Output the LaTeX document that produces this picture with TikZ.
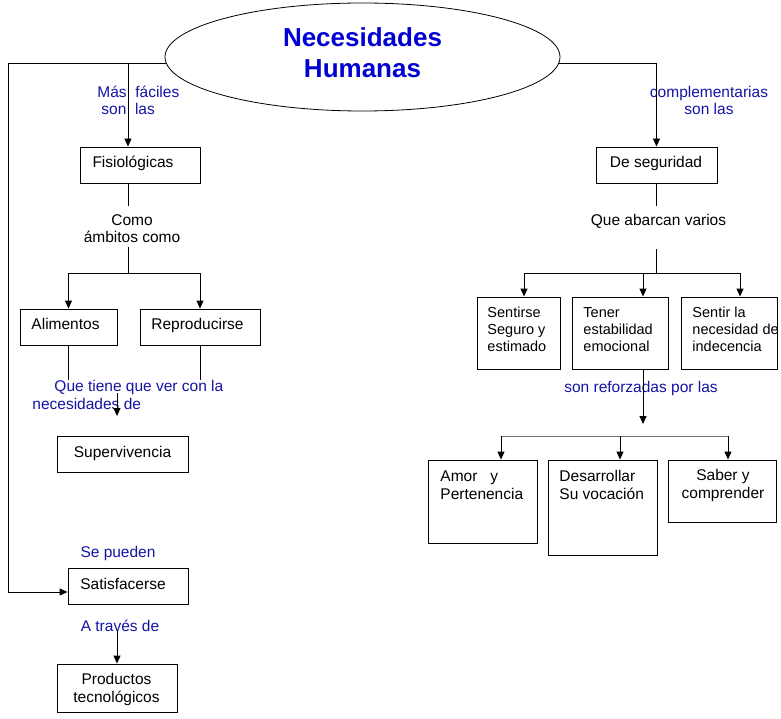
\documentclass[tikz,border=0pt]{standalone}
\usepackage{fontspec}
\setmainfont{Liberation Sans}
\usepackage{tikz}
\usetikzlibrary{arrows.meta,shapes.geometric}
\definecolor{titazul}{RGB}{0,0,210}
\definecolor{etiq}{RGB}{20,20,165}

\begin{document}
\begin{tikzpicture}[x=1pt, y=-1pt, line width=0.9pt,
  caja/.style={draw, inner sep=0pt},
  txt/.style={inner sep=0pt, anchor=base, align=center, font=\fontsize{15.5}{17.5}\selectfont},
  txtizq/.style={txt, anchor=base west, align=left},
  chico/.style={txtizq, font=\fontsize{14.5}{17}\selectfont},
  etiqueta/.style={txt, text=etiq},
  flecha/.style={-{Triangle[length=8pt,width=7pt]}}]
  \useasboundingbox (0,0) rectangle (781,719);
  % titulo (base = ultima linea)
  \node[draw, ellipse, line width=0.8pt, minimum width=395, minimum height=108] (titulo) at (362.5,57) {};
  \node[font=\fontsize{26}{31}\selectfont\bfseries, text=titazul, align=center, anchor=base] (tit) at (362.5,78) {Necesidades\\Humanas};
  % cajas
  \node[caja, minimum width=120, minimum height=36] (fisio) at (140,165) {};
  \node[caja, minimum width=121, minimum height=36] (segur) at (656.5,165) {};
  \node[caja, minimum width=97, minimum height=36] (alim) at (68.5,327) {};
  \node[caja, minimum width=120, minimum height=36] (repro) at (200,327) {};
  \node[caja, minimum width=131, minimum height=36] (superv) at (122.5,454) {};
  \node[caja, minimum width=120, minimum height=36] (satis) at (128,586) {};
  \node[caja, minimum width=120, minimum height=48] (prod) at (117,688) {};
  \node[caja, minimum width=83, minimum height=72] (sentirse) at (518.5,333) {};
  \node[caja, minimum width=96, minimum height=72] (tener) at (620,333) {};
  \node[caja, minimum width=96, minimum height=72] (sentir) at (729,333) {};
  \node[caja, minimum width=109, minimum height=83] (amor) at (482.5,501.5) {};
  \node[caja, minimum width=109, minimum height=95] (desarr) at (602.5,507.5) {};
  \node[caja, minimum width=108, minimum height=62] (saber) at (722,491) {};
  % textos de las cajas
  \node[txt] (fisio-t) at (133,168) {Fisiológicas};
  \node[txt] (segur-t) at (656,168) {De seguridad};
  \node[txt] (alim-t) at (65.5,329) {Alimentos};
  \node[txt] (repro-t) at (197.5,329) {Reproducirse};
  \node[txt] (superv-t) at (122.5,457) {Supervivencia};
  \node[txt] (satis-t) at (123,589) {Satisfacerse};
  \node[txt] (prod-t) at (116.5,702) {Productos\\tecnológicos};
  \node[chico] (sentirse-t) at (487,351) {Sentirse\\Seguro y\\estimado};
  \node[chico] (tener-t) at (583,351) {Tener\\estabilidad\\emocional};
  \node[chico] (sentir-t) at (692,351) {Sentir la\\necesidad de\\indecencia};
  \node[txtizq] (amor-t) at (440,499) {Amor~~~y\\Pertenencia};
  \node[txtizq] (desarr-t) at (559,499) {Desarrollar\\Su vocación};
  \node[txt] (saber-t) at (723,498) {Saber y\\comprender};
  % enlaces
  \node[etiqueta, anchor=base west, align=left] (mas) at (97,115) {Más~~fáciles\\\hspace*{4pt}son~~las};
  \node[etiqueta] (compl) at (709,115) {complementarias\\son las};
  \node[txt] (como) at (132,243) {Como\\ámbitos como};
  \node[txt] (abarc) at (658.5,226) {Que abarcan varios};
  \node[etiqueta, anchor=base west, align=left] (ver) at (32,409) {\hspace*{22pt}Que tiene que ver con la\\necesidades de};
  \node[etiqueta] (refor) at (641,392) {son reforzadas por las};
  \node[etiqueta] (sepue) at (118,557) {Se pueden};
  \node[etiqueta] (atrav) at (120,631) {A través de};
  % puntos de las lineas
  \coordinate (rfis) at (titulo.182 -| 128,0);
  \coordinate (codo) at (8,592);
  \coordinate (bif1) at (128,273);
  \coordinate (bif2) at (656.5,273);
  \coordinate (busD) at (524,273);
  \coordinate (busE) at (643,273);
  \coordinate (busF) at (740,273);
  \coordinate (supini) at (117,393);
  \coordinate (supfin) at (117,416);
  \coordinate (reffin) at (643,424);
  \coordinate (busA) at (501,436);
  \coordinate (busB) at (620,436);
  \coordinate (busC) at (728,436);
  % lado izquierdo
  \draw[flecha] (titulo.182) -| (codo) -- (codo -| satis.west);
  \draw[flecha] (rfis) -- (rfis |- fisio.north);
  \draw[shorten >=8.5pt] (fisio.south -| rfis) -- (como.north -| rfis);
  \draw[shorten >=3pt] (bif1) -- (como.south -| rfis);
  \draw[flecha] (bif1) -| (alim.north);
  \draw[flecha] (bif1) -| (repro.north);
  \draw (alim.south) -- (alim.south |- ver.north);
  \draw (repro.south) -- (repro.south |- ver.north);
  \draw[flecha] (supini) -- (supfin);
  \draw[flecha] (atrav.base -| prod.north) -- (prod.north);
  % lado derecho
  \draw[flecha] (titulo.-2) -| (segur.north);
  \draw[shorten >=8pt] (segur.south) -- (abarc.north -| segur.south);
  \draw[shorten >=20pt] (bif2) -- (abarc.south -| bif2);
  \draw (busD) -- (busF);
  \draw[flecha] (busD) -- (busD |- sentirse.north);
  \draw[flecha] (busE) -- (busE |- tener.north);
  \draw[flecha] (busF) -- (busF |- sentir.north);
  \draw[flecha] (tener.south -| reffin) -- (reffin);
  \draw[black!55] (busA) -- (busC);
  \draw[flecha] (busA) -- (busA |- amor.north);
  \draw[flecha] (busB) -- (busB |- desarr.north);
  \draw[flecha] (busC) -- (busC |- saber.north);
\end{tikzpicture}
\end{document}
